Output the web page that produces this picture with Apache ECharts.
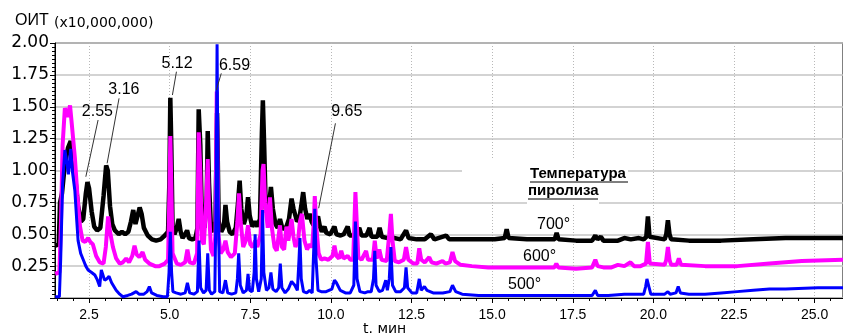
<!DOCTYPE html>
<html>
<head>
<meta charset="utf-8">
<script src="https://cdn.jsdelivr.net/npm/echarts@6.0.0/dist/echarts.min.js"></script>
<style>
html, body { margin: 0; padding: 0; background: #fff; }
#chart { width: 843px; height: 334px; }
</style>
</head>
<body>
<div id="chart"></div>
<script>
// время удерживания, мин / ОИТ (x10,000,000)
var xMin = 1.444;
var xMax = 25.88;
var xLabels = [2.5, 5.0, 7.5, 10.0, 12.5, 15.0, 17.5, 20.0, 22.5, 25.0];
var yLabels = [0.25, 0.5, 0.75, 1.0, 1.25, 1.5, 1.75, 2.0];

var seriesNames = ["700°", "600°", "500°"];
var seriesColors = ["#000000", "#ff00ff", "#0000ff"];

var trace700 = [
    [1.45, 0.41], [1.56, 0.42], [1.60, 0.75], [1.66, 0.82], [1.75, 1.05], [1.85, 1.18], [1.93, 1.23], [2.0, 1.12],
    [2.08, 0.92], [2.16, 0.72], [2.25, 0.60], [2.32, 0.62], [2.40, 0.82], [2.45, 0.91], [2.50, 0.86], [2.58, 0.68],
    [2.66, 0.56], [2.75, 0.53], [2.85, 0.55], [2.95, 0.80], [3.03, 1.04], [3.08, 1.0], [3.15, 0.72], [3.22, 0.58],
    [3.30, 0.53], [3.42, 0.50], [3.52, 0.52], [3.62, 0.50], [3.72, 0.52], [3.80, 0.60], [3.87, 0.69], [3.94, 0.58],
    [4.0, 0.58], [4.07, 0.71], [4.13, 0.66], [4.20, 0.55], [4.32, 0.49], [4.45, 0.46], [4.58, 0.45], [4.72, 0.46],
    [4.85, 0.49], [4.95, 0.52], [4.99, 0.9], [5.02, 1.57], [5.05, 1.2], [5.09, 0.55], [5.15, 0.50], [5.22, 0.55],
    [5.28, 0.62], [5.34, 0.52], [5.40, 0.47], [5.48, 0.50], [5.54, 0.53], [5.60, 0.47], [5.70, 0.46], [5.80, 0.47],
    [5.86, 0.55], [5.90, 1.48], [5.95, 1.2], [6.0, 0.60], [6.08, 0.55], [6.15, 0.8], [6.18, 1.31], [6.22, 0.9],
    [6.28, 0.55], [6.36, 0.52], [6.42, 0.6], [6.47, 1.45], [6.52, 0.6], [6.60, 0.52], [6.68, 0.56], [6.73, 0.73],
    [6.78, 0.6], [6.86, 0.52], [6.95, 0.50], [7.05, 0.55], [7.12, 0.75], [7.17, 0.92], [7.22, 0.7], [7.30, 0.58],
    [7.38, 0.65], [7.43, 0.79], [7.48, 0.65], [7.56, 0.56], [7.65, 0.6], [7.72, 0.56], [7.80, 0.62], [7.86, 1.3],
    [7.89, 1.55], [7.93, 1.2], [7.98, 0.7], [8.05, 0.65], [8.14, 0.87], [8.20, 0.7], [8.28, 0.58], [8.35, 0.55],
    [8.42, 0.62], [8.48, 0.56], [8.55, 0.54], [8.62, 0.56], [8.70, 0.62], [8.78, 0.78], [8.84, 0.7], [8.88, 0.69],
    [8.95, 0.6], [9.02, 0.62], [9.08, 0.72], [9.14, 0.83], [9.20, 0.7], [9.27, 0.62], [9.34, 0.66], [9.40, 0.6],
    [9.46, 0.57], [9.53, 0.60], [9.60, 0.64], [9.66, 0.56], [9.72, 0.52], [9.80, 0.56], [9.86, 0.51], [9.98, 0.50],
    [10.11, 0.56], [10.17, 0.50], [10.3, 0.49], [10.4, 0.50], [10.52, 0.56], [10.58, 0.49], [10.75, 0.49], [10.88, 0.55],
    [10.95, 0.49], [11.1, 0.49], [11.2, 0.55], [11.26, 0.48], [11.44, 0.48], [11.51, 0.55], [11.58, 0.48], [11.76, 0.47],
    [11.96, 0.47], [12.16, 0.46], [12.33, 0.53], [12.41, 0.47], [12.66, 0.46], [12.91, 0.46], [13.1, 0.50], [13.21, 0.46],
    [13.57, 0.49], [13.67, 0.46], [14.07, 0.46], [14.58, 0.46], [15.08, 0.46], [15.39, 0.47], [15.45, 0.54], [15.51, 0.47],
    [16.08, 0.46], [16.59, 0.46], [16.94, 0.46], [17.0, 0.51], [17.06, 0.46], [17.6, 0.45], [18.1, 0.45], [18.2, 0.49],
    [18.27, 0.46], [18.37, 0.48], [18.45, 0.45], [18.9, 0.45], [19.1, 0.47], [19.3, 0.46], [19.55, 0.47], [19.7, 0.46],
    [19.78, 0.48], [19.83, 0.64], [19.88, 0.48], [20.35, 0.46], [20.40, 0.50], [20.45, 0.61], [20.50, 0.50], [20.55, 0.46],
    [21.1, 0.45], [22.1, 0.45], [23.1, 0.46], [24.1, 0.47], [25.1, 0.47], [25.88, 0.47]
];

var trace600 = [
    [1.45, 0.19], [1.58, 0.20], [1.63, 0.6], [1.68, 1.2], [1.75, 1.49], [1.82, 1.42], [1.91, 1.51], [1.97, 1.35],
    [2.06, 1.1], [2.14, 0.8], [2.22, 0.56], [2.30, 0.45], [2.38, 0.44], [2.47, 0.47], [2.54, 0.44], [2.62, 0.42],
    [2.72, 0.33], [2.83, 0.28], [2.95, 0.27], [3.02, 0.40], [3.09, 0.64], [3.15, 0.52], [3.24, 0.40], [3.34, 0.31],
    [3.45, 0.27], [3.55, 0.28], [3.65, 0.31], [3.74, 0.28], [3.84, 0.33], [3.91, 0.41], [3.98, 0.34], [4.06, 0.32],
    [4.11, 0.33], [4.16, 0.36], [4.24, 0.30], [4.37, 0.27], [4.55, 0.25], [4.68, 0.25], [4.85, 0.27], [4.95, 0.30],
    [4.99, 0.8], [5.02, 1.27], [5.05, 0.9], [5.09, 0.35], [5.14, 0.32], [5.22, 0.27], [5.35, 0.26], [5.48, 0.28],
    [5.55, 0.38], [5.62, 0.28], [5.75, 0.27], [5.85, 0.35], [5.90, 1.30], [5.95, 1.0], [6.0, 0.45], [6.06, 0.42],
    [6.14, 0.8], [6.18, 1.09], [6.22, 0.7], [6.28, 0.38], [6.36, 0.33], [6.42, 0.5], [6.46, 1.62], [6.51, 0.5],
    [6.58, 0.35], [6.66, 0.38], [6.73, 0.45], [6.80, 0.36], [6.90, 0.32], [7.02, 0.35], [7.10, 0.6], [7.15, 0.82],
    [7.20, 0.6], [7.28, 0.4], [7.36, 0.45], [7.43, 0.57], [7.50, 0.42], [7.58, 0.40], [7.65, 0.45], [7.72, 0.40],
    [7.82, 0.5], [7.88, 1.0], [7.91, 1.05], [7.96, 0.75], [8.04, 0.55], [8.11, 0.79], [8.17, 0.55], [8.25, 0.40],
    [8.32, 0.37], [8.42, 0.57], [8.48, 0.40], [8.55, 0.38], [8.62, 0.56], [8.68, 0.45], [8.78, 0.62], [8.84, 0.48],
    [8.90, 0.40], [8.98, 0.45], [9.04, 0.6], [9.10, 0.66], [9.18, 0.45], [9.26, 0.38], [9.34, 0.42], [9.42, 0.40],
    [9.47, 0.6], [9.50, 0.80], [9.55, 0.55], [9.62, 0.35], [9.70, 0.30], [9.80, 0.31], [9.92, 0.30], [10.05, 0.33],
    [10.11, 0.41], [10.17, 0.33], [10.25, 0.31], [10.32, 0.37], [10.39, 0.31], [10.52, 0.33], [10.6, 0.30], [10.69, 0.30],
    [10.73, 0.6], [10.76, 0.83], [10.8, 0.6], [10.85, 0.32], [10.95, 0.30], [11.09, 0.37], [11.15, 0.30], [11.3, 0.30],
    [11.36, 0.45], [11.42, 0.31], [11.5, 0.38], [11.57, 0.30], [11.73, 0.29], [11.81, 0.5], [11.86, 0.66], [11.91, 0.45],
    [11.98, 0.29], [12.11, 0.28], [12.26, 0.30], [12.33, 0.40], [12.4, 0.30], [12.56, 0.27], [12.68, 0.27], [12.74, 0.39],
    [12.8, 0.30], [12.91, 0.28], [13.05, 0.32], [13.12, 0.28], [13.27, 0.27], [13.46, 0.29], [13.55, 0.27], [13.69, 0.28],
    [13.77, 0.36], [13.85, 0.29], [14.02, 0.26], [14.37, 0.25], [14.88, 0.24], [15.38, 0.24], [16.08, 0.24], [16.58, 0.24],
    [16.93, 0.24], [16.99, 0.27], [17.05, 0.24], [17.6, 0.23], [18.1, 0.24], [18.2, 0.30], [18.27, 0.25], [18.45, 0.24],
    [18.7, 0.24], [18.9, 0.26], [19.1, 0.25], [19.29, 0.28], [19.4, 0.25], [19.6, 0.25], [19.77, 0.27], [19.83, 0.44],
    [19.89, 0.27], [20.35, 0.26], [20.40, 0.30], [20.45, 0.40], [20.50, 0.30], [20.55, 0.26], [20.72, 0.26], [20.79, 0.31],
    [20.86, 0.26], [21.6, 0.25], [22.6, 0.25], [23.6, 0.27], [24.6, 0.29], [25.88, 0.30]
];

var trace500 = [
    [1.45, 0.01], [1.58, 0.01], [1.62, 0.3], [1.68, 0.9], [1.75, 1.16], [1.82, 1.05], [1.86, 0.97], [1.93, 1.17],
    [1.98, 1.0], [2.06, 0.84], [2.12, 0.6], [2.16, 0.45], [2.24, 0.35], [2.32, 0.30], [2.40, 0.25], [2.47, 0.22],
    [2.58, 0.20], [2.68, 0.18], [2.76, 0.14], [2.83, 0.09], [2.88, 0.22], [2.93, 0.18], [2.98, 0.14], [3.05, 0.15],
    [3.12, 0.17], [3.2, 0.12], [3.34, 0.06], [3.45, 0.03], [3.55, 0.01], [3.7, 0.02], [3.82, 0.03], [3.96, 0.05],
    [4.05, 0.03], [4.2, 0.03], [4.30, 0.05], [4.37, 0.09], [4.44, 0.04], [4.6, 0.02], [4.8, 0.01], [4.93, 0.01],
    [4.98, 0.2], [5.02, 0.52], [5.06, 0.2], [5.10, 0.05], [5.2, 0.04], [5.35, 0.03], [5.48, 0.04], [5.55, 0.12],
    [5.62, 0.04], [5.75, 0.03], [5.86, 0.05], [5.91, 0.45], [5.96, 0.08], [6.05, 0.04], [6.13, 0.06], [6.18, 0.35],
    [6.23, 0.06], [6.30, 0.03], [6.40, 0.05], [6.44, 0.8], [6.47, 1.99], [6.50, 0.8], [6.55, 0.05], [6.65, 0.04],
    [6.73, 0.14], [6.80, 0.04], [6.92, 0.03], [7.05, 0.04], [7.10, 0.15], [7.14, 0.35], [7.19, 0.10], [7.28, 0.04],
    [7.38, 0.06], [7.43, 0.19], [7.48, 0.06], [7.56, 0.05], [7.62, 0.2], [7.65, 0.50], [7.69, 0.15], [7.76, 0.05],
    [7.84, 0.15], [7.88, 0.69], [7.92, 0.2], [8.0, 0.06], [8.08, 0.08], [8.14, 0.2], [8.20, 0.07], [8.30, 0.05],
    [8.38, 0.08], [8.43, 0.27], [8.48, 0.08], [8.58, 0.04], [8.68, 0.07], [8.78, 0.13], [8.88, 0.10], [8.96, 0.06],
    [9.01, 0.3], [9.04, 0.47], [9.08, 0.15], [9.15, 0.05], [9.25, 0.04], [9.34, 0.06], [9.42, 0.04], [9.47, 0.4],
    [9.50, 0.70], [9.54, 0.3], [9.60, 0.06], [9.70, 0.05], [9.85, 0.05], [10.03, 0.07], [10.11, 0.14], [10.17, 0.12],
    [10.21, 0.12], [10.29, 0.06], [10.45, 0.04], [10.6, 0.04], [10.71, 0.1], [10.76, 0.60], [10.81, 0.15], [10.9, 0.05],
    [11.05, 0.04], [11.15, 0.05], [11.25, 0.05], [11.32, 0.15], [11.36, 0.37], [11.4, 0.1], [11.5, 0.05], [11.6, 0.06],
    [11.7, 0.14], [11.75, 0.06], [11.81, 0.15], [11.86, 0.40], [11.91, 0.1], [12.01, 0.05], [12.16, 0.05], [12.28, 0.08],
    [12.33, 0.24], [12.38, 0.08], [12.51, 0.04], [12.66, 0.04], [12.74, 0.15], [12.8, 0.06], [12.9, 0.09], [12.98, 0.06],
    [13.17, 0.04], [13.47, 0.04], [13.69, 0.05], [13.77, 0.10], [13.87, 0.05], [14.07, 0.03], [14.58, 0.02], [15.08, 0.02],
    [16.08, 0.02], [17.1, 0.02], [18.1, 0.02], [18.2, 0.06], [18.27, 0.02], [18.6, 0.02], [19.1, 0.03], [19.7, 0.03],
    [19.76, 0.09], [19.8, 0.15], [19.86, 0.09], [19.92, 0.03], [20.35, 0.03], [20.45, 0.05], [20.52, 0.03], [20.7, 0.04],
    [20.77, 0.09], [20.84, 0.04], [21.1, 0.03], [21.6, 0.03], [22.1, 0.04], [22.6, 0.05], [23.1, 0.06], [23.6, 0.07],
    [24.1, 0.07], [25.1, 0.08], [25.88, 0.08]
];

// подписи пиков: текст, точка текста, начало и конец выноски (в координатах осей)
var peakLabels = ["2.55", "3.16", "5.12", "6.59", "9.65"];
var peakTextAt = [[2.76, 1.463], [3.58, 1.631], [5.23, 1.835], [7.01, 1.82], [10.49, 1.459]];
var peakLineFrom = [[2.78, 1.396], [3.43, 1.566], [5.21, 1.775], [6.60, 1.762], [10.14, 1.37]];
var peakLineTo = [[2.40, 0.951], [3.06, 1.056], [5.085, 1.592], [6.446, 1.631], [9.62, 0.704]];

var minorX = [];
for (var m = 1.5; m <= 25.5; m += 0.5) {
    minorX.push(m);
}

var chart = echarts.init(document.getElementById("chart"));

var traces = [trace700, trace600, trace500];
var widths = [4.5, 4, 3];
var series = traces.map(function(d, i) {
    return {
        name: seriesNames[i],
        type: "line",
        data: d,
        showSymbol: false,
        symbol: "none",
        z: 2 + i,
        lineStyle: { color: seriesColors[i], width: widths[i] },
        itemStyle: { color: seriesColors[i] }
    };
});

var option = {
    animation: false,
    backgroundColor: "#fff",
    grid: {
        left: 55, top: 43, right: -2, bottom: 36,
        show: true, borderColor: "#000", borderWidth: 1,
        backgroundColor: "transparent"
    },
    xAxis: [{
        type: "value",
        min: xMin,
        max: xMax,
        position: "bottom",
        axisLine: { lineStyle: { color: "#000", width: 1 } },
        axisTick: { customValues: xLabels, length: 5, lineStyle: { color: "#000" } },
        axisLabel: {
            customValues: xLabels,
            formatter: function(v) { return v.toFixed(1); },
            color: "#000",
            fontFamily: "Liberation Sans",
            fontSize: 14,
            margin: 10
        },
        splitLine: { show: true, lineStyle: { color: "#b8b8b8", type: [1, 2], width: 1 } }
    }, {
        type: "value",
        min: xMin,
        max: xMax,
        position: "bottom",
        axisLine: { show: false },
        axisTick: { customValues: minorX, length: 3, lineStyle: { color: "#000" } },
        axisLabel: { show: false },
        splitLine: { show: false }
    }],
    yAxis: {
        type: "value",
        min: 0,
        max: 2,
        interval: 0.25,
        axisLine: { show: true, lineStyle: { color: "#000" } },
        axisTick: { show: true, length: 5, lineStyle: { color: "#000" } },
        minorTick: { show: true, splitNumber: 8, length: 3, lineStyle: { color: "#000" } },
        axisLabel: {
            formatter: function(v) { return yLabels.indexOf(v) >= 0 ? v.toFixed(2) : ""; },
            color: "#000",
            fontFamily: "DejaVu Sans",
            fontSize: 17,
            margin: 6
        },
        splitLine: { show: true, lineStyle: { color: "#c4c4c4", width: 1.5 } }
    },
    series: series
};
chart.setOption(option);

// надписи
var graphics = [
    { type: "text", x: 15, y: 21, style: { text: "ОИТ", font: '16px "Liberation Sans"', fill: "#000", verticalAlign: "middle" } },
    { type: "text", x: 54, y: 23, style: { text: "(x10,000,000)", font: '14px "DejaVu Sans"', fill: "#000", verticalAlign: "middle" } },
    { type: "text", x: 363, y: 329, style: { text: "t. мин", font: '14px "DejaVu Sans"', fill: "#000", verticalAlign: "middle" } },
    { type: "rect", z: 1, shape: { x: 462, y: 160, width: 166, height: 23 }, style: { fill: "#fff" } },
    { type: "rect", z: 1, shape: { x: 527, y: 184, width: 72, height: 21 }, style: { fill: "#fff" } },
    { type: "text", z: 5, x: 530, y: 174, style: { text: "Температура", font: 'bold 15px "Liberation Sans"', fill: "#000", verticalAlign: "middle" } },
    { type: "line", z: 5, shape: { x1: 530, y1: 182, x2: 628, y2: 182 }, style: { stroke: "#000", lineWidth: 1 } },
    { type: "text", z: 5, x: 528, y: 191, style: { text: "пиролиза", font: 'bold 15px "Liberation Sans"', fill: "#000", verticalAlign: "middle" } },
    { type: "line", z: 5, shape: { x1: 528, y1: 199, x2: 598, y2: 199 }, style: { stroke: "#000", lineWidth: 1 } },
    { type: "text", z: 5, x: 537, y: 225, style: { text: seriesNames[0], font: '16px "Liberation Sans"', fill: "#000", verticalAlign: "middle" } },
    { type: "text", z: 5, x: 523, y: 257, style: { text: seriesNames[1], font: '16px "Liberation Sans"', fill: "#000", verticalAlign: "middle" } },
    { type: "text", z: 5, x: 508, y: 285, style: { text: seriesNames[2], font: '16px "Liberation Sans"', fill: "#000", verticalAlign: "middle" } }
];

peakLabels.forEach(function(label, i) {
    var pt = chart.convertToPixel({ seriesIndex: 0 }, peakTextAt[i]);
    var p1 = chart.convertToPixel({ seriesIndex: 0 }, peakLineFrom[i]);
    var p2 = chart.convertToPixel({ seriesIndex: 0 }, peakLineTo[i]);
    graphics.push({
        type: "line", z: 10,
        shape: { x1: p1[0], y1: p1[1], x2: p2[0], y2: p2[1] },
        style: { stroke: "#333", lineWidth: 1 }
    });
    graphics.push({
        type: "text", z: 10, x: pt[0], y: pt[1],
        style: { text: label, font: '16px "Liberation Sans"', fill: "#000", align: "center", verticalAlign: "middle" }
    });
});

chart.setOption({ graphic: graphics });
</script>
</body>
</html>
